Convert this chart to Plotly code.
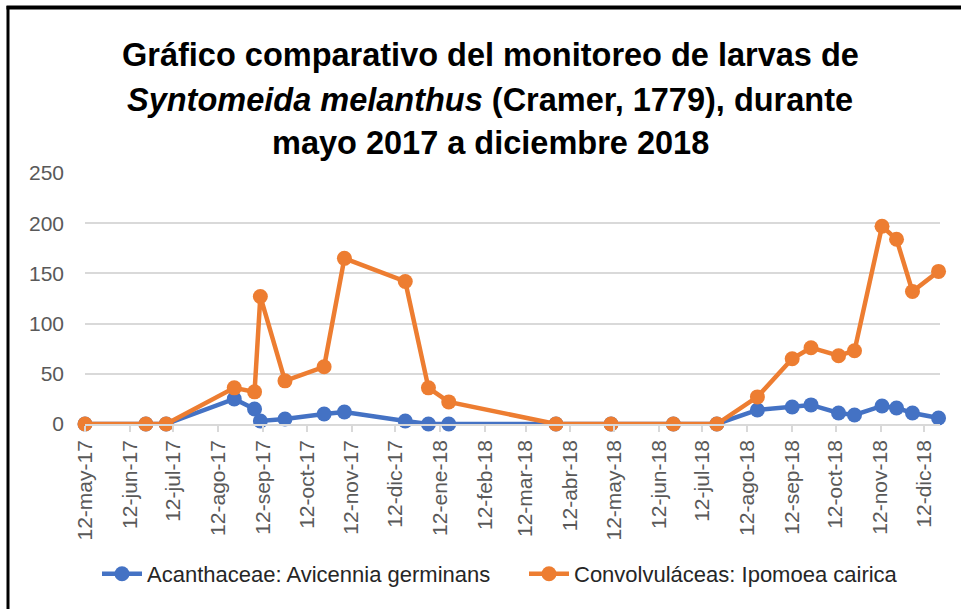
import plotly.graph_objects as go

# ---- data ----
dates = ["2017-05-12", "2017-06-23", "2017-07-07", "2017-08-23", "2017-09-06",
         "2017-09-10", "2017-09-27", "2017-10-24", "2017-11-07", "2017-12-19",
         "2018-01-04", "2018-01-18", "2018-04-02", "2018-05-10", "2018-06-22",
         "2018-07-22", "2018-08-19", "2018-09-12", "2018-09-25", "2018-10-14",
         "2018-10-25", "2018-11-13", "2018-11-23", "2018-12-04", "2018-12-22"]
acanthaceae = [0, 0, 0, 25, 15, 3, 5, 10, 12, 3, 0, 0, 0, 0, 0, 0,
               14, 17, 19, 11, 9, 18, 16, 11, 6]
convolvulaceas = [0, 0, 0, 36, 32, 127, 43, 57, 165, 142, 36, 22, 0, 0, 0, 0,
                  27, 65, 76, 68, 73, 197, 184, 132, 152]
series_names = ["Acanthaceae: Avicennia germinans", "Convolvuláceas: Ipomoea cairica"]

tick_dates = ["2017-05-12", "2017-06-12", "2017-07-12", "2017-08-12", "2017-09-12",
              "2017-10-12", "2017-11-12", "2017-12-12", "2018-01-12", "2018-02-12",
              "2018-03-12", "2018-04-12", "2018-05-12", "2018-06-12", "2018-07-12",
              "2018-08-12", "2018-09-12", "2018-10-12", "2018-11-12", "2018-12-12"]
tick_labels = ["12-may-17", "12-jun-17", "12-jul-17", "12-ago-17", "12-sep-17",
               "12-oct-17", "12-nov-17", "12-dic-17", "12-ene-18", "12-feb-18",
               "12-mar-18", "12-abr-18", "12-may-18", "12-jun-18", "12-jul-18",
               "12-ago-18", "12-sep-18", "12-oct-18", "12-nov-18", "12-dic-18"]
y_ticks = [0, 50, 100, 150, 200, 250]

title_lines = ["<b>Gráfico comparativo del monitoreo de larvas de</b>",
               "<b><i>Syntomeida melanthus</i> (Cramer, 1779), durante</b>",
               "<b>mayo 2017 a diciembre 2018</b>"]

# ---- layout geometry (pixels) ----
W, H = 961, 609
L, R, T, B = 85, 940, 173, 424


def px_x(x):
    return (x - L) / (R - L)


def px_y(y):
    return (B - y) / (B - T)


BLUE = "#4472C4"
ORANGE = "#ED7D31"

fig = go.Figure()
fig.add_trace(go.Scatter(x=dates, y=acanthaceae, name=series_names[0], mode="lines+markers",
                         line=dict(color=BLUE, width=4.5), marker=dict(size=15, color=BLUE),
                         cliponaxis=False))
fig.add_trace(go.Scatter(x=dates, y=convolvulaceas, name=series_names[1], mode="lines+markers",
                         line=dict(color=ORANGE, width=4.5), marker=dict(size=15, color=ORANGE),
                         cliponaxis=False))

label_font = dict(family="Liberation Sans, Arial, sans-serif", size=21, color="#595959")

fig.update_layout(
    width=W, height=H,
    margin=dict(l=L, r=W - R, t=T, b=H - B, autoexpand=False),
    paper_bgcolor="white", plot_bgcolor="white",
    showlegend=True,
    legend=dict(orientation="h", x=px_x(97), xanchor="left", y=px_y(574), yanchor="middle",
                font=dict(family="Liberation Sans, Arial, sans-serif", size=22, color="#262626"),
                entrywidth=372, entrywidthmode="pixels", itemwidth=40,
                bgcolor="rgba(0,0,0,0)"),
    xaxis=dict(type="date", range=["2017-05-12", "2018-12-23"],
               tickvals=tick_dates, ticktext=tick_labels, tickangle=-90,
               tickfont=label_font, ticks="outside", ticklen=6, tickwidth=1.5,
               tickcolor="#d9d9d9", showline=True, linecolor="#d9d9d9", linewidth=1.5,
               showgrid=False, zeroline=False, automargin=False),
    yaxis=dict(range=[0, 250], tickvals=y_ticks, tickfont=label_font,
               showgrid=True, gridcolor="#d9d9d9", gridwidth=1.5, zeroline=False,
               showline=False, ticks="", ticklabelstandoff=20, automargin=False),
)

title_centers = [55, 100, 143]
for text, cy in zip(title_lines, title_centers):
    fig.add_annotation(text=text, xref="paper", yref="paper", x=px_x(490), y=px_y(cy),
                       xanchor="center", yanchor="middle", showarrow=False,
                       font=dict(family="Liberation Sans, Arial, sans-serif",
                                 size=32.5, color="#000000"))

# frame border (left and top)
fig.add_shape(type="line", xref="paper", yref="paper", x0=px_x(8), x1=px_x(8),
              y0=px_y(6), y1=px_y(612), line=dict(color="black", width=3))
fig.add_shape(type="line", xref="paper", yref="paper", x0=px_x(6.5), x1=px_x(965),
              y0=px_y(7.5), y1=px_y(7.5), line=dict(color="black", width=4))

fig.write_html("out.html", config={"displayModeBar": False},
               post_script="document.body.style.margin='0';document.body.style.overflow='hidden';")
